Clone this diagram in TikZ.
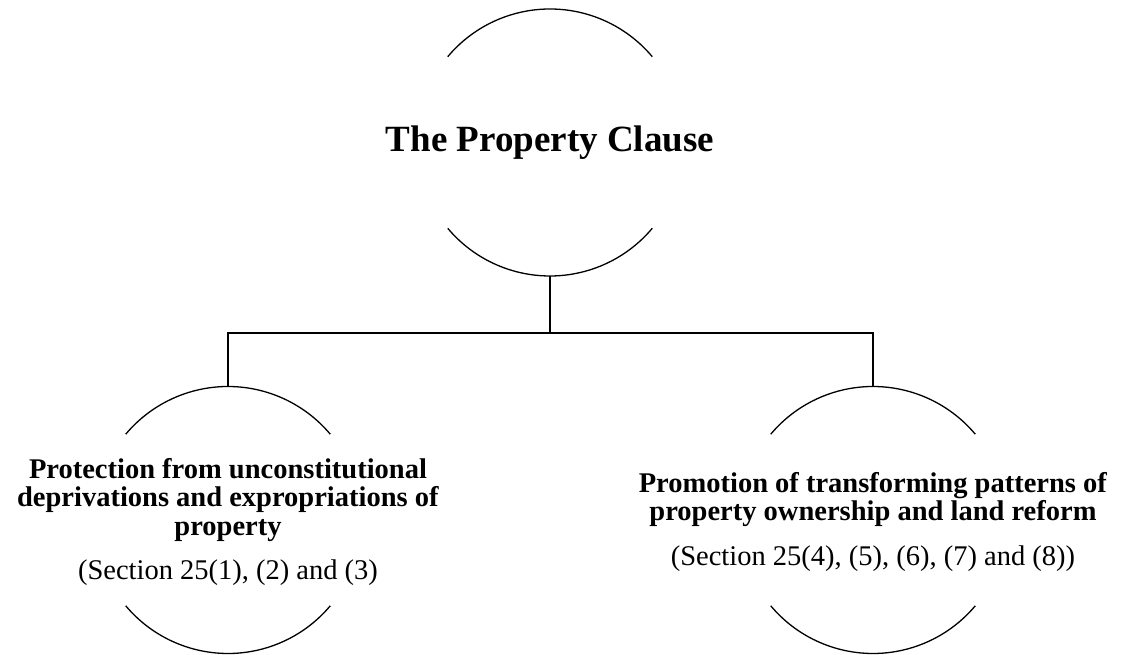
\documentclass[tikz,border=0pt]{standalone}
\usepackage{fontspec}
\setmainfont{Liberation Serif}
\begin{document}
\begin{tikzpicture}[x=1pt,y=1pt,
  circ/.style={circle,draw=none,minimum size=267pt,inner sep=0pt,outer sep=0pt},
  arcline/.style={line width=1.3pt},
  conn/.style={line width=1.3pt},
  titletext/.style={font=\fontsize{37}{40}\selectfont\bfseries,inner sep=0pt},
  bodytext/.style={font=\fontsize{28.5}{28.5}\selectfont,align=center,inner sep=0pt}]
\useasboundingbox (0,0) rectangle (1124,655);
\node[circ] (top) at (550,512.5) {};
\node[circ] (left) at (228,135) {};
\node[circ] (right) at (873,135) {};
\coordinate (bus) at (550,322);
\foreach \n in {top,left,right}{
  \draw[arcline] (\n.40) arc[start angle=40,end angle=140,radius=133.5pt];
  \draw[arcline] (\n.220) arc[start angle=220,end angle=320,radius=133.5pt];
}
\node[titletext] (ttl) at (550,512.5) {The Property Clause};
\node[bodytext] (ltxt) at (228,133) {\textbf{Protection from unconstitutional}\\\textbf{deprivations and expropriations of}\\\textbf{property}\\[16pt](Section 25(1), (2) and (3)};
\node[bodytext] (rtxt) at (873,133) {\textbf{Promotion of transforming patterns of}\\\textbf{property ownership and land reform}\\[16pt](Section 25(4), (5), (6), (7) and (8))};
\draw[conn] (top.south) -- (bus);
\draw[conn] (left.north) |- (bus) -| (right.north);
\end{tikzpicture}
\end{document}
